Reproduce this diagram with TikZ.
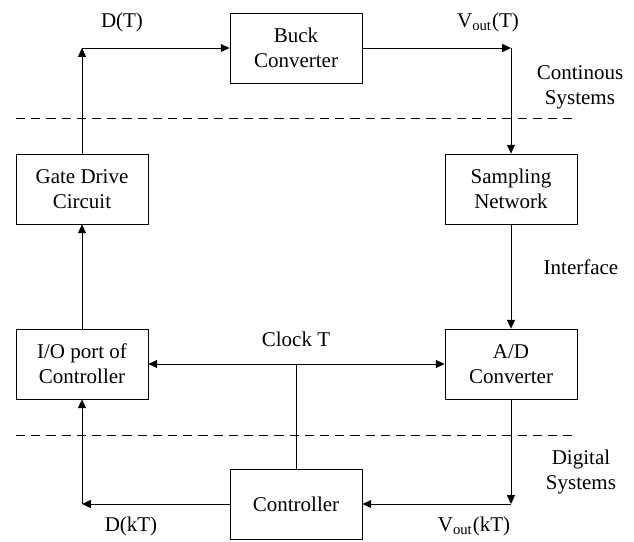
\documentclass[tikz,border=0pt]{standalone}
\usepackage{fontspec}
\setmainfont{Liberation Serif}
\usetikzlibrary{arrows.meta,calc,positioning}
\tikzset{>={Triangle[length=4.4pt,width=4pt]},line width=1.1pt,
  every node/.style={font=\fontsize{10.5}{12.6}\selectfont},
  block/.style={draw,align=center,minimum width=66pt,minimum height=35pt,inner sep=1pt},
  flow/.style={->},
  border/.style={draw,dashed,dash pattern=on 4.6pt off 3pt},
  zonelabel/.style={align=center}}

\begin{document}
\begin{tikzpicture}[x=.5pt,y=-.5pt]
\useasboundingbox (0,0) rectangle (634,542);
% blocks
\node[block] (buck) at (296,48) {Buck\\Converter};
\node[block] (gate) at (82,189) {Gate Drive\\Circuit};
\node[block] (samp) at (511,189) {Sampling\\Network};
\node[block] (io) at (82,364) {I/O port of\\Controller};
\node[block] (adc) at (511,364) {A/D\\Converter};
\node[block] (ctrl) at (296,504) {Controller};
% corners
\coordinate (dt) at (gate.north |- buck.west);
\coordinate (vt) at (samp.north |- buck.east);
\coordinate (vkt) at (adc.south |- ctrl.east);
\coordinate (dkt) at (io.south |- ctrl.west);
\coordinate (clk) at (ctrl.north |- io.east);
% zone boundaries
\coordinate (b1l) at (16,118);\coordinate (b1r) at (573,118);
\coordinate (b2l) at (16,435);\coordinate (b2r) at (573,435);
\draw[border] (b1l)--(b1r);\draw[border] (b2l)--(b2r);
% signal paths
\draw[flow] (gate.north)--(dt);\draw[flow] (dt)--(buck.west);
\draw[flow] (buck.east)--(vt);\draw[flow] (vt)--(samp.north);
\draw[flow] (samp.south)--(adc.north);
\draw[flow] (adc.south)--(vkt);\draw[flow] (vkt)--(ctrl.east);
\draw[flow] (ctrl.west)--(dkt);\draw[flow] (dkt)--(io.south);
\draw[flow] (io.north)--(gate.south);
\draw (ctrl.north)--(clk);
\draw[flow] (clk)--(io.east);\draw[flow] (clk)--(adc.west);
% labels
\node (dtlbl) at (122,22) {D(T)};
\node (vtlbl) at (488,22) {V\textsubscript{out}(T)};
\node (dktlbl) at (131,526) {D(kT)};
\node (vktlbl) at (474,526) {V\textsubscript{out}(kT)};
\node (clklbl) at (296,339) {Clock T};
\node[zonelabel] (cont) at (580,87) {Continous\\Systems};
\node[zonelabel] (intf) at (581,267) {Interface};
\node[zonelabel] (dig) at (581,472) {Digital\\Systems};
\end{tikzpicture}
\end{document}
